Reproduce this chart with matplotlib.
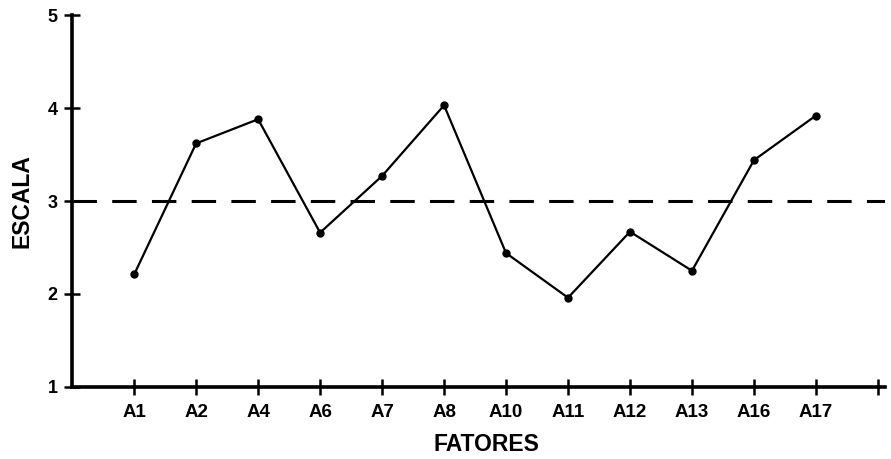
import matplotlib.pyplot as plt

# factor labels and scale values
fatores = ["A1", "A2", "A4", "A6", "A7", "A8", "A10", "A11", "A12", "A13", "A16", "A17"]
escala = [2.21, 3.62, 3.88, 2.66, 3.27, 4.03, 2.44, 1.96, 2.67, 2.25, 3.44, 3.92]
referencia = 3.0

plt.rcParams["font.family"] = ["Liberation Sans", "DejaVu Sans"]

fig = plt.figure(figsize=(8.91, 4.59), dpi=100)
ax = fig.add_axes([0.081, 0.157, 0.912, 0.81])

x = list(range(1, len(fatores) + 1))
ax.plot(x, escala, color="black", lw=1.6, marker="o", ms=5, zorder=3)
ax.axhline(referencia, color="black", lw=2.2, dashes=(8, 5), zorder=2)

ax.set_xlim(0, 13.11)
ax.set_ylim(1, 5)
ax.set_xticks(x + [13])
ax.set_xticklabels(fatores + [""], fontsize=13.5, fontweight="bold")
ax.set_yticks([1, 2, 3, 4, 5])
ax.set_yticklabels(["1", "2", "3", "4", "5"], fontsize=13, fontweight="bold")
ax.tick_params(direction="inout", length=11, width=1.8, color="black")
ax.tick_params(axis="y", pad=5)
ax.tick_params(axis="x", pad=7)

for side in ["top", "right"]:
    ax.spines[side].set_visible(False)
for side in ["left", "bottom"]:
    ax.spines[side].set_linewidth(2.6)

ax.set_xlabel("FATORES", fontsize=16.5, fontweight="bold")
ax.set_ylabel("ESCALA", fontsize=16.5, fontweight="bold")
ax.xaxis.set_label_coords(0.51, -0.124)
ax.yaxis.set_label_coords(-0.048, 0.5)

plt.savefig("out.png", dpi=100)
plt.close()
